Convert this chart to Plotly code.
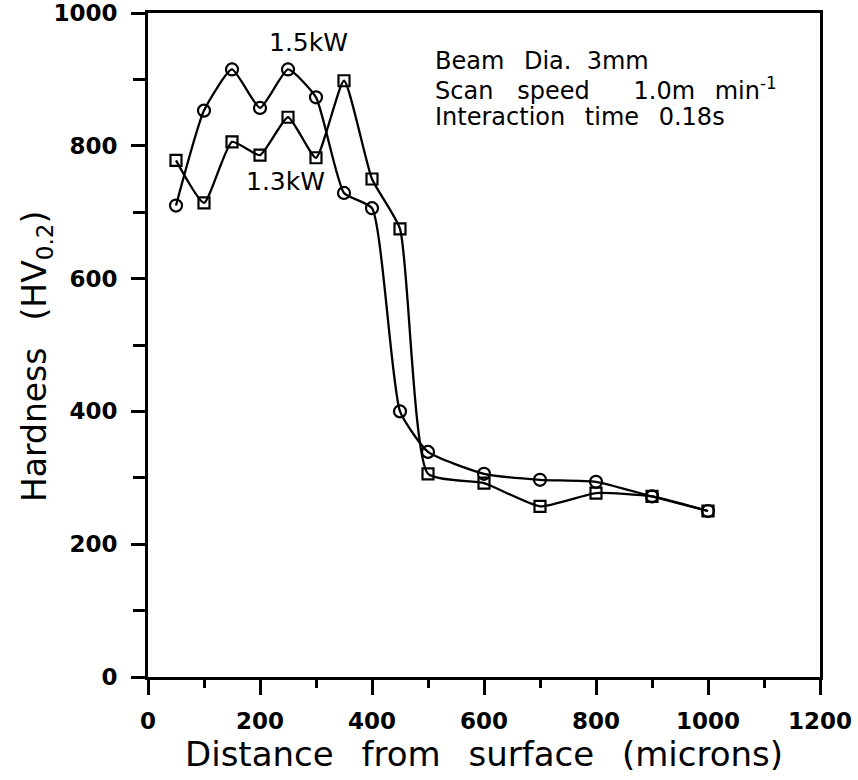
import plotly.graph_objects as go

distance = [50, 100, 150, 200, 250, 300, 350, 400, 450, 500, 600, 700, 800, 900, 1000]
hardness_15kw = [710, 853, 915, 857, 915, 873, 729, 706, 400, 339, 306, 297, 294, 272, 250]
hardness_13kw = [778, 714, 806, 786, 843, 782, 898, 750, 675, 306, 292, 257, 277, 272, 250]

x_ticks = [0, 200, 400, 600, 800, 1000, 1200]
x_minor = [100, 300, 500, 700, 900, 1100]
y_ticks = [0, 200, 400, 600, 800, 1000]
y_minor = [100, 300, 500, 700, 900]

series_labels = ["1.5kW", "1.3kW"]
info_lines = [
    "Beam\u2002 Dia.\u00a0 3mm",
    "Scan\u2003speed\u2003\u2002 1.0m\u2002 min<sup>-1</sup>",
    "Interaction\u2002 time\u2002 0.18s",
]
x_title = "Distance \u2002from \u2002surface \u2002(microns)"
y_title = "Hardness \u2002(HV<sub>0.2</sub>)"

FONT = "DejaVu Sans"

fig = go.Figure()
fig.add_trace(go.Scatter(
    x=distance, y=hardness_15kw, mode="lines+markers", name=series_labels[0],
    line=dict(color="black", width=2.3, shape="spline", smoothing=0.5),
    marker=dict(symbol="circle-open", size=12, color="black", line=dict(width=2.2)),
))
fig.add_trace(go.Scatter(
    x=distance, y=hardness_13kw, mode="lines+markers", name=series_labels[1],
    line=dict(color="black", width=2.3, shape="spline", smoothing=0.5),
    marker=dict(symbol="square-open", size=11, color="black", line=dict(width=2.2)),
))

fig.add_annotation(x=286, y=955, text=series_labels[0], showarrow=False,
                   font=dict(family=FONT, size=25, color="black"))
fig.add_annotation(x=245, y=746, text=series_labels[1], showarrow=False,
                   font=dict(family=FONT, size=25, color="black"))
for txt, yy in zip(info_lines, [928, 886, 844]):
    fig.add_annotation(
        x=509, y=yy, xanchor="left", yanchor="middle", align="left", showarrow=False,
        text=txt, font=dict(family=FONT, size=24, color="black"),
    )

# y-axis title as a rotated annotation for exact placement
fig.add_annotation(
    xref="paper", yref="paper", x=-0.165, y=0.482, textangle=-90,
    xanchor="center", yanchor="middle", showarrow=False,
    text=y_title, font=dict(family=FONT, size=33, color="black"),
)

fig.update_layout(
    width=858, height=780,
    margin=dict(l=148, r=38, t=13, b=103),
    paper_bgcolor="white", plot_bgcolor="white",
    showlegend=False,
    font=dict(family=FONT, color="black"),
)
fig.update_xaxes(
    range=[0, 1200], tickvals=x_ticks, ticktext=[str(v) for v in x_ticks],
    showgrid=False, zeroline=False, automargin=False,
    showline=True, linecolor="black", linewidth=3, mirror=True,
    ticks="outside", ticklen=15, tickwidth=3, tickcolor="black",
    minor=dict(tickvals=x_minor, ticks="outside", ticklen=8, tickwidth=3, tickcolor="black"),
    tickfont=dict(family=FONT, size=23, color="black", weight="bold"),
    ticklabelstandoff=6,
    title=dict(text=x_title, font=dict(family=FONT, size=34, color="black"), standoff=1),
)
fig.update_yaxes(
    range=[0, 1000], tickvals=y_ticks, ticktext=[str(v) for v in y_ticks],
    showgrid=False, zeroline=False, automargin=False,
    showline=True, linecolor="black", linewidth=3, mirror=True,
    ticks="outside", ticklen=14, tickwidth=3, tickcolor="black",
    minor=dict(tickvals=y_minor, ticks="outside", ticklen=12, tickwidth=3, tickcolor="black"),
    tickfont=dict(family=FONT, size=23, color="black", weight="bold"),
    ticklabelstandoff=9,
)

fig.write_html("out.html")
